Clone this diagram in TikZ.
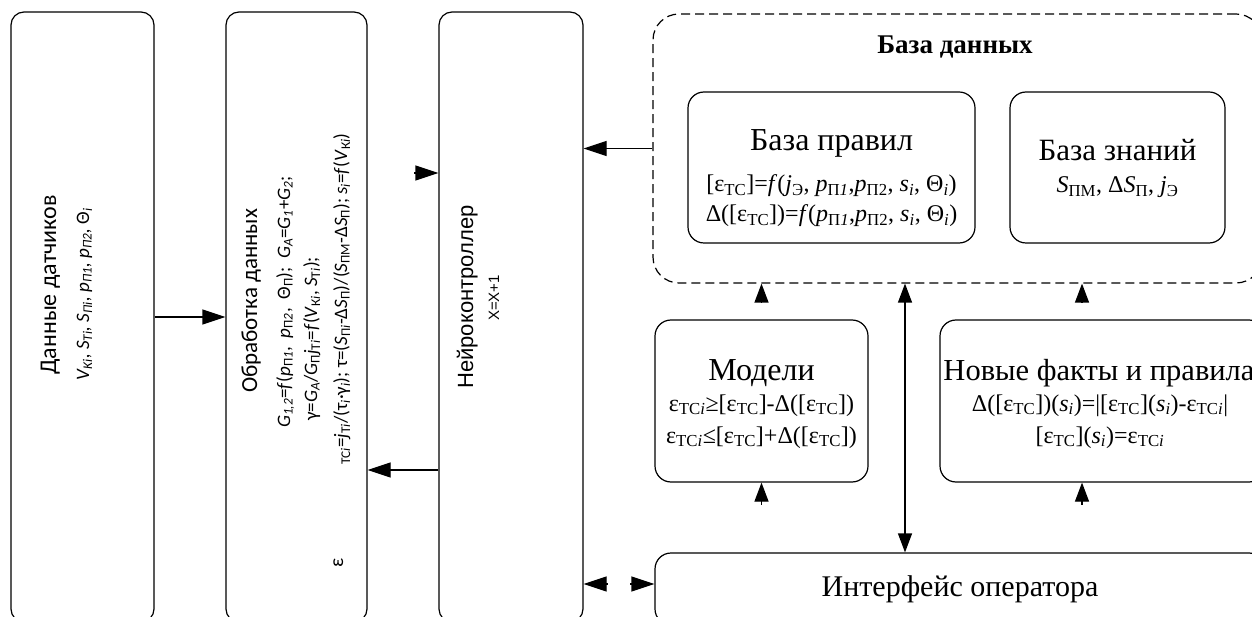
\documentclass[tikz,border=0pt]{standalone}
\usepackage{fontspec}
\setmainfont{Liberation Serif}
\newfontfamily\calib{Carlito}
\newfontfamily\arialf{Liberation Sans}
\usetikzlibrary{arrows.meta}
\newcommand{\sbx}[1]{\textsubscript{#1}}
\begin{document}
\begin{tikzpicture}[x=1pt,y=-1pt,
  box/.style={draw, line width=1.2pt, rounded corners=13pt, inner sep=0pt},
  dbox/.style={draw, line width=1.2pt, rounded corners=26pt, dash pattern=on 9pt off 5pt, inner sep=0pt},
  tipH/.style={line width=1.2pt, -{Triangle[length=23pt,width=15pt]}},
  tipV/.style={line width=1.2pt, -{Triangle[length=19pt,width=14pt]}},
  dbl/.style={line width=1.2pt, {Triangle[length=19pt,width=14pt]}-{Triangle[length=19pt,width=14pt]}},
  vl/.style={rotate=90, anchor=base, inner sep=0pt},
  hl/.style={anchor=base, inner sep=0pt},
  ttl/.style={hl, font=\fontsize{32}{36}\selectfont},
  fml/.style={hl, font=\fontsize{24}{28}\selectfont}]
\useasboundingbox (0,0) rectangle (1252,617);
\fill[white] (0,0) rectangle (1252,617);
% columns
\node[box, minimum width=143pt, minimum height=610pt] (sens) at (82.5,317) {};
\node[box, minimum width=141pt, minimum height=610pt] (proc) at (296.5,317) {};
\node[box, minimum width=144pt, minimum height=610pt] (neuro) at (511,317) {};
% database
\node[dbox, minimum width=609pt, minimum height=269pt] (db) at (957.5,148.5) {};
\node[box, rounded corners=16pt, minimum width=287pt, minimum height=151pt] (rules) at (831.5,167.5) {};
\node[box, rounded corners=16pt, minimum width=215pt, minimum height=151pt] (know) at (1117.5,167.5) {};
\node[box, rounded corners=16pt, minimum width=213pt, minimum height=162pt] (models) at (761.5,401) {};
\node[box, rounded corners=16pt, minimum width=325pt, minimum height=162pt] (facts) at (1102.5,401) {};
\node[box, rounded corners=16pt, minimum width=610pt, minimum height=72pt] (iface) at (960,589) {};
% sensor texts
\node[vl, font=\calib\fontsize{24}{28}\selectfont] (s1) at (56,285) {Данные датчиков};
\node[vl, font=\calib\fontsize{19}{22}\selectfont\itshape] (s2) at (89,294) {V\sbx{K\textit{i}}, S\sbx{T\textit{i}}, S\sbx{П\textit{i}}, p\sbx{П1}, p\sbx{П2}, \upshape Θ\sbx{\textit{i}}};
% processing texts
\node[vl, font=\calib\fontsize{23}{27}\selectfont] (p1) at (257,301) {Обработка данных};
\node[vl, font=\calib\fontsize{19}{22}\selectfont] (p2) at (290,302) {\textit{G}\sbx{\textit{1,2}}=\textit{f}(\textit{p}\sbx{П\textit{1}}, \ \textit{p}\sbx{П\textit{2}}, \ Θ\sbx{П}); \ \textit{G}\sbx{\textit{A}}=\textit{G}\sbx{\textit{1}}+\textit{G}\sbx{\textit{2}};};
\node[vl, font=\calib\fontsize{19}{22}\selectfont] (p3) at (317,339) {γ=\textit{G}\sbx{\textit{A}}/\textit{G}\sbx{П}\textit{j}\sbx{Т\textit{i}}=\textit{f}(\textit{V}\sbx{К\textit{i}}, \textit{S}\sbx{Т\textit{i}});};
\node[vl, font=\calib\fontsize{19}{22}\selectfont] (p4) at (347,299) {\sbx{ТС\textit{i}}=\textit{j}\sbx{Т\textit{i}}/(τ\sbx{\textit{i}}·γ\sbx{\textit{i}}); τ=(\textit{S}\sbx{П\textit{i}}-Δ\textit{S}\sbx{П})/(\textit{S}\sbx{ПМ}-Δ\textit{S}\sbx{П}); \textit{s}\sbx{\textit{i}}=\textit{f}(\textit{V}\sbx{К\textit{i}})};
\node[vl, font=\calib\fontsize{20}{24}\selectfont] (p5) at (343,563) {ε};
% neuro texts
\node[vl, font=\arialf\fontsize{22}{26}\selectfont] (n1) at (473,297) {Нейроконтроллер};
\node[vl, font=\arialf\fontsize{15}{18}\selectfont] (n2) at (499,298) {X=X+1};
% database texts
\node[hl, font=\bfseries\fontsize{27}{30}\selectfont] (t-db) at (955,54) {База данных};
\node[ttl] (r1) at (831.5,151) {База правил};
\node[fml] (r2) at (831.5,192) {[ε\sbx{TC}]=\textit{f}(\textit{j}\sbx{Э}, \textit{p}\sbx{П\textit{1}},\textit{p}\sbx{П2}, \textit{s}\sbx{\textit{i}}, Θ\sbx{\textit{i}})};
\node[fml] (r3) at (831.5,222) {Δ([ε\sbx{TC}])=\textit{f}(\textit{p}\sbx{П\textit{1}},\textit{p}\sbx{П2}, \textit{s}\sbx{\textit{i}}, Θ\sbx{\textit{i}})};
\node[ttl, font=\fontsize{31}{36}\selectfont] (k1) at (1117.5,161) {База знаний};
\node[fml] (k2) at (1117.5,193) {\textit{S}\sbx{ПМ}, Δ\textit{S}\sbx{П}, \textit{j}\sbx{Э}};
\node[ttl] (m1t) at (761.5,380) {Модели};
\node[fml] (m2t) at (761.5,411) {ε\sbx{TC\textit{i}}≥[ε\sbx{TC}]-Δ([ε\sbx{TC}])};
\node[fml] (m3t) at (761.5,443) {ε\sbx{TC\textit{i}}≤[ε\sbx{TC}]+Δ([ε\sbx{TC}])};
\node[ttl, font=\fontsize{30.5}{36}\selectfont] (f1t) at (1099,380) {Новые факты и правила};
\node[fml] (f2t) at (1100,411) {Δ([ε\sbx{TC}])(\textit{s}\sbx{\textit{i}})=|[ε\sbx{TC}](\textit{s}\sbx{\textit{i}})-ε\sbx{TC\textit{i}}|};
\node[fml] (f3t) at (1100,443) {[ε\sbx{TC}](\textit{s}\sbx{\textit{i}})=ε\sbx{TC\textit{i}}};
\node[ttl, font=\fontsize{30}{36}\selectfont] (i1) at (960,596) {Интерфейс оператора};
% connectors
\draw[tipH] (sens.east) -- (proc.west);
\draw[tipH] ([yshift=-153pt]neuro.west) -- ([yshift=-153pt]proc.east);
\draw[tipH] ([xshift=-24pt,yshift=144pt]neuro.west) -- ([yshift=144pt]neuro.west);
\draw[tipH] (db.west) -- (neuro.east |- db.west);
\draw[tipH] ([xshift=24pt,yshift=-267pt]neuro.east) -- ([yshift=-267pt]neuro.east);
\draw[tipH] ([xshift=-24pt,yshift=5pt]iface.west) -- ([yshift=5pt]iface.west);
\coordinate (c1) at (models.north |- db.south);
\coordinate (fx) at ([xshift=-20.5pt]facts.north);
\coordinate (c2) at (fx |- db.south);
\coordinate (dx) at ([xshift=-55pt]iface.north);
\coordinate (c3) at (dx |- db.south);
\draw[tipV] ([yshift=-19pt]c1) -- (c1);
\draw[tipV] ([yshift=-19pt]c2) -- (c2);
\draw[tipV] ([yshift=-22pt]models.south) -- (models.south);
\coordinate (c4) at (fx |- facts.south);
\draw[tipV] ([yshift=-22pt]c4) -- (c4);
\draw[dbl] (c3) -- (dx);
\end{tikzpicture}
\end{document}
